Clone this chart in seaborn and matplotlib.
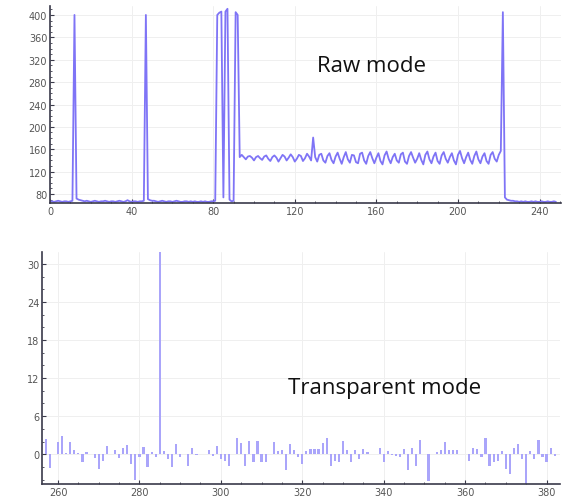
import numpy as np
import pandas as pd
import matplotlib
matplotlib.use("Agg")
import matplotlib.pyplot as plt
from matplotlib.ticker import MultipleLocator
import seaborn as sns

# ---- Raw mode (top) : one sample per x = 0..248 ----
raw_values = (
    [67, 67, 66, 67, 68, 67, 66, 67, 67, 66, 67, 68,            # 0-11
     400,                                                        # 12
     72, 70, 69, 68, 67, 68, 67, 66, 67, 68, 67, 66, 67, 67,     # 13-26
     68, 67, 66, 67, 67, 66, 67, 68, 67, 66, 67, 69, 67, 66,     # 27-40
     67, 67, 66, 67, 67, 68,                                     # 41-46
     400,                                                        # 47
     71, 69, 68, 68, 67, 66, 67, 68, 67, 66, 67, 67, 66, 67,     # 48-61
     68, 67, 66, 66, 67, 67, 66, 67, 66, 67, 66, 66, 67, 66,     # 62-75
     67, 66, 66, 67, 67, 68,                                     # 76-81
     400, 404, 406, 74, 406, 411, 70, 67, 68, 405, 400, 146,     # 82-93
     150, 146, 142, 147, 148, 145, 140, 146, 148, 144,           # 94-103
     141, 147, 149, 143, 139, 146, 149, 145, 138, 144,           # 104-113
     150, 147, 140, 145, 151, 146, 138, 143, 150, 148,           # 114-123
     139, 144, 152, 147, 140,                                    # 124-128
     181,                                                        # 129
     146, 138, 150, 152, 140, 136, 148, 153, 141, 135,           # 130-139
     147, 154, 143, 134, 146, 155, 142, 136, 150, 149,           # 140-149
     137, 135, 152, 154, 140, 134, 148, 155, 144, 135,           # 150-159
     145, 153, 139, 133, 149, 156, 143, 135, 146, 152,           # 160-169
     140, 136, 151, 154, 138, 134, 148, 155, 145, 136,           # 170-179
     143, 153, 141, 133, 150, 156, 142, 135, 147, 154,           # 180-189
     139, 134, 149, 155, 143, 136, 146, 153, 140, 133,           # 190-199
     150, 157, 144, 135, 146, 154, 141, 134, 148, 156,           # 200-209
     142, 135, 147, 153, 139, 134, 150, 155, 143, 138,           # 210-219
     150, 157, 405, 74, 70,                                      # 220-224
     69, 68, 68, 67, 67, 66, 67, 66, 67, 66, 66, 67,             # 225-236
     66, 67, 66, 66, 67, 66, 66, 67, 66, 66, 67, 66]             # 237-248
)
raw_x = list(range(len(raw_values)))

# ---- Transparent mode (bottom) : x = 257..382 ----
trans_x = list(range(257, 383))
trans_values = [
    2.4, -2.2, 0.1, 1.9, 2.8, 0.2, 2.0, 0.6, 0.2, -1.3,      # 257-266
    0.3, 0.1, -0.6, -2.4, -1.1, 1.3, 0.1, 0.6, -0.6, 1.0,    # 267-276
    1.4, -1.6, -4.0, -0.4, 1.2, -2.0, 0.3, -0.5, 32.0, 0.5,  # 277-286
    -0.8, -2.0, 1.6, -0.5, 0.1, -1.8, 1.0, -0.2, 0.1, 0.1,   # 287-296
    0.6, -0.3, 1.3, -0.8, -1.0, -1.9, 0.1, 2.5, 1.8, -1.8,   # 297-306
    2.1, -1.3, 2.1, -1.3, -1.3, 0.1, 1.9, 0.5, 0.6, -2.5,    # 307-316
    1.6, 0.6, -0.5, -1.6, 0.5, 0.8, 0.8, 0.9, 1.8, 2.6,      # 317-326
    -1.9, -1.0, -1.2, 2.1, 0.6, -1.3, 0.6, -0.8, 0.8, 0.4,   # 327-336
    0.1, 0.1, 1.0, -1.3, 0.5, -0.1, -0.3, -0.5, 0.8, -2.5,   # 337-346
    1.0, -1.9, 2.3, 0.1, -4.2, 0.1, 0.3, 0.7, 1.9, 0.7,      # 347-356
    0.7, 0.6, 0.1, 0.1, -1.0, 1.0, 0.8, -0.5, 2.6, -1.9,     # 357-366
    -1.3, -1.0, 0.5, -2.4, -3.1, 1.0, 1.6, -0.8, -4.7, 0.5,  # 367-376
    -0.8, 2.3, -0.5, -1.3, 1.0, -0.3,                        # 377-382
]

top_yticks = [80, 120, 160, 200, 240, 280, 320, 360, 400]
top_xticks = [0, 40, 80, 120, 160, 200, 240]
bot_yticks = [0, 6, 12, 18, 24, 30]
bot_xticks = [260, 280, 300, 320, 340, 360, 380]

sns.set_theme(style="white")
plt.rcParams["font.family"] = ["DejaVu Sans"]

LINE = "#7f74f6"
BAR = "#aaa5fa"
SPINE = "#3a3a4a"
TICKTXT = "#555555"
GRID = "#efefef"

fig = plt.figure(figsize=(5.67, 5.02), dpi=100)
ax1 = fig.add_axes([50 / 567, 1 - 204 / 502, (561 - 50) / 567, (204 - 7) / 502])
ax2 = fig.add_axes([42 / 567, 1 - 485 / 502, (560 - 42) / 567, (485 - 253) / 502])

df_raw = pd.DataFrame({"x": raw_x, "y": raw_values})
sns.lineplot(data=df_raw, x="x", y="y", ax=ax1, color=LINE, linewidth=1.3)

df_tr = pd.DataFrame({"x": trans_x, "y": trans_values})
sns.barplot(data=df_tr, x="x", y="y", ax=ax2, native_scale=True, color=BAR,
            width=0.55, saturation=1, linewidth=0, errorbar=None)

def style(ax, xt, yt, xminor, yminor):
    ax.set_xticks(xt)
    ax.set_yticks(yt)
    ax.xaxis.set_minor_locator(MultipleLocator(xminor))
    ax.yaxis.set_minor_locator(MultipleLocator(yminor))
    ax.grid(True, which="major", color=GRID, linewidth=0.7)
    ax.set_axisbelow(True)
    for s in ["top", "right"]:
        ax.spines[s].set_visible(False)
    for s in ["left", "bottom"]:
        ax.spines[s].set_color(SPINE)
        ax.spines[s].set_linewidth(1.2)
    ax.tick_params(which="major", direction="in", length=3, width=0.8,
                   colors=SPINE, labelcolor=TICKTXT, labelsize=7, pad=2,
                   left=True, bottom=True)
    ax.tick_params(which="minor", direction="in", length=1.5, width=0.6,
                   colors=SPINE, left=True, bottom=True)
    ax.set_xlabel("")
    ax.set_ylabel("")
    ax.set_facecolor("white")

style(ax1, top_xticks, top_yticks, 10, 10)
ax1.set_xlim(0, 250.5)
ax1.set_ylim(64, 416)

style(ax2, bot_xticks, bot_yticks, 5, 2)
ax2.set_xlim(256.07, 383.3)
ax2.set_ylim(-4.7, 31.9)

ax1.text(0.63, 0.70, "Raw mode", transform=ax1.transAxes, ha="center",
         va="center", fontsize=16, family=["Open Sans", "DejaVu Sans"], color="#111111")
ax2.text(0.662, 0.414, "Transparent mode", transform=ax2.transAxes, ha="center",
         va="center", fontsize=16, family=["Open Sans", "DejaVu Sans"], color="#111111")

fig.savefig("out.png", dpi=100)
